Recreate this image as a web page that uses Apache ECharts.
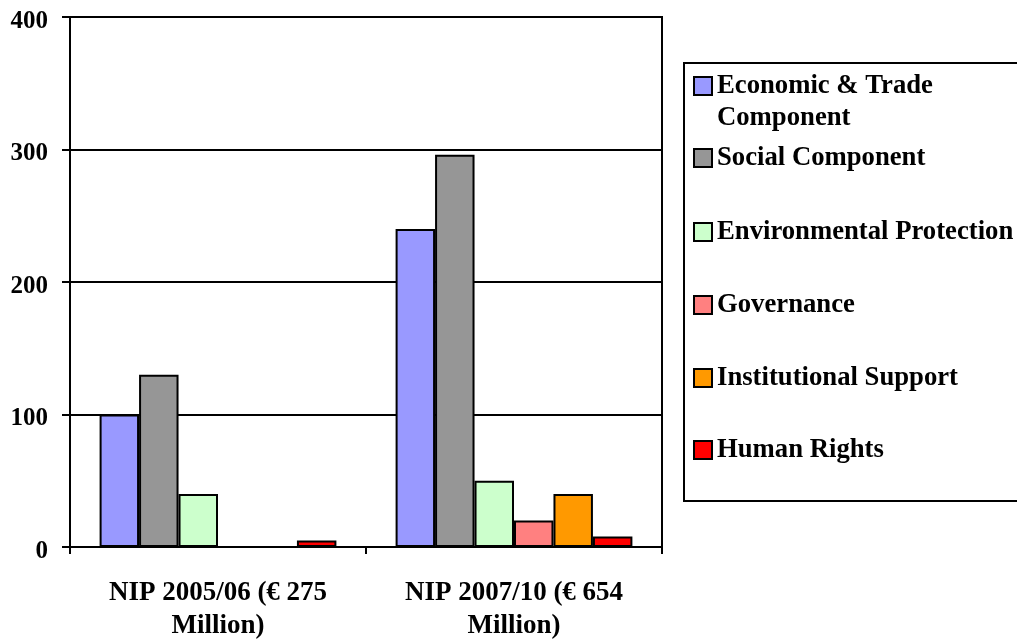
<!DOCTYPE html>
<html>
<head>
<meta charset="utf-8">
<script src="https://cdn.jsdelivr.net/npm/echarts@6/dist/echarts.min.js"></script>
<style>
html,body{margin:0;padding:0;background:#fff;}
#chart{width:1017px;height:639px;}
</style>
</head>
<body>
<div id="chart"></div>
<script>
const categories = ['NIP 2005/06 (€ 275\nMillion)', 'NIP 2007/10 (€ 654\nMillion)'];
const seriesNames = ['Economic & Trade\nComponent', 'Social Component', 'Environmental Protection', 'Governance', 'Institutional Support', 'Human Rights'];
const economicTrade = [100, 240];
const social = [130, 296];
const environmental = [40, 50];
const governance = [0, 20];
const institutional = [0, 40];
const humanRights = [5, 8];
const yTicks = [0, 100, 200, 300, 400];

const seriesData = [economicTrade, social, environmental, governance, institutional, humanRights];
const colors = ['#9999FF', '#969696', '#CCFFCC', '#FF8080', '#FF9900', '#FF0000'];
const legendCenters = [86, 158, 232, 305, 378, 450];

const FONT = 'Liberation Serif';
const LH = 32;
const chart = echarts.init(document.getElementById('chart'), null, {renderer: 'canvas'});

const legends = seriesNames.map((n, i) => {
  const lines = n.split('\n').length;
  const o = {
    data: [n],
    orient: 'vertical',
    left: 693,
    top: i === 0 ? legendCenters[i] - LH * 1.5 : legendCenters[i] - LH / 2,
    padding: 0,
    itemWidth: 18,
    itemHeight: 18,
    itemGap: 0,
    selectedMode: false,
    icon: 'rect',
    itemStyle: {borderColor: '#000', borderWidth: 2},
    textStyle: {fontFamily: FONT, fontWeight: 'bold', fontSize: 26.7, color: '#000', lineHeight: LH}
  };
  if (lines > 1) o.formatter = name => '\n' + name;
  return o;
});

const option = {
  animation: false,
  backgroundColor: '#fff',
  grid: {left: 70, right: 355, top: 17, bottom: 92, show: true, borderColor: '#000', borderWidth: 2, backgroundColor: 'transparent', containLabel: false, outerBoundsMode: 'none'},
  legend: legends,
  graphic: [{
    type: 'rect',
    shape: {x: 684, y: 63, width: 400, height: 438},
    style: {fill: 'none', stroke: '#000', lineWidth: 2},
    silent: true
  }],
  xAxis: {
    type: 'category',
    data: categories,
    axisLine: {lineStyle: {color: '#000', width: 2}},
    axisTick: {show: true, length: 7, lineStyle: {color: '#000', width: 2}},
    axisLabel: {fontFamily: FONT, fontWeight: 'bold', fontSize: 27, color: '#000', lineHeight: 33, margin: 30}
  },
  yAxis: {
    type: 'value',
    min: yTicks[0],
    max: yTicks[yTicks.length - 1],
    interval: yTicks[1] - yTicks[0],
    axisLine: {show: true, lineStyle: {color: '#000', width: 2}},
    axisTick: {show: true, length: 8, lineStyle: {color: '#000', width: 2}},
    axisLabel: {fontFamily: FONT, fontWeight: 'bold', fontSize: 25, color: '#000', margin: 22, verticalAlign: 'top', lineHeight: 9},
    splitLine: {show: true, lineStyle: {color: '#000', width: 2}}
  },
  series: seriesNames.map((n, i) => ({
    name: n,
    type: 'bar',
    data: seriesData[i],
    barGap: '0%',
    barCategoryGap: '20%',
    itemStyle: {color: colors[i], borderColor: '#000', borderWidth: 2},
    emphasis: {disabled: true}
  }))
};
chart.setOption(option);
</script>
</body>
</html>
